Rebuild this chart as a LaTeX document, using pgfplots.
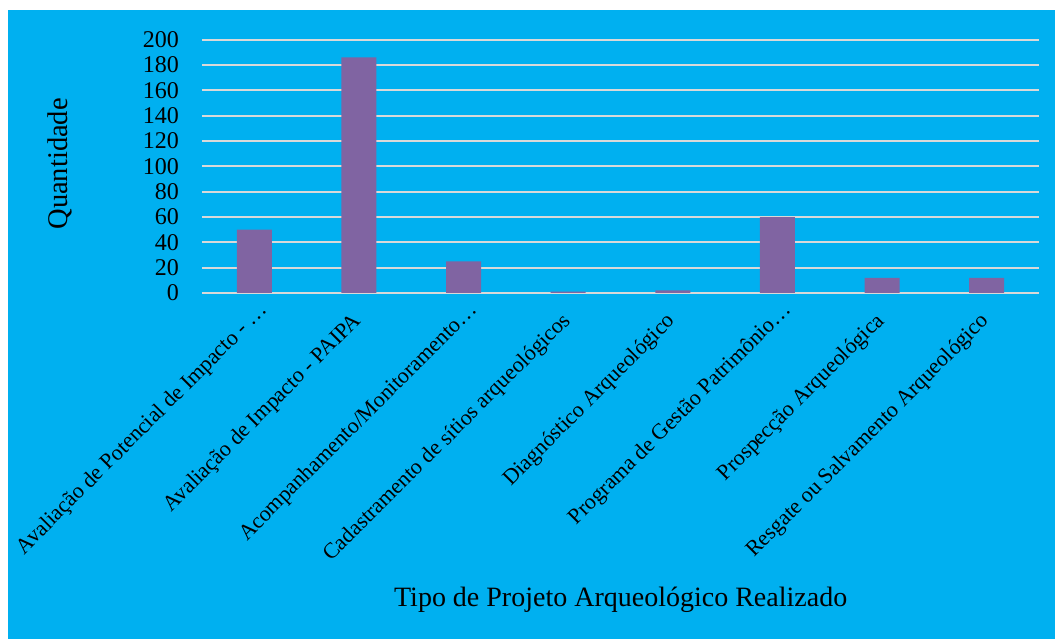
\documentclass[border=0pt]{standalone}
\usepackage{pgfplots}
\pgfplotsset{compat=1.18}
\usepackage{fontspec}
\setmainfont{Liberation Serif}
\definecolor{bgcyan}{HTML}{00B0F0}
\definecolor{barpurple}{HTML}{8064A2}
\definecolor{gridgray}{HTML}{D9D9D9}
\begin{document}
\begin{tikzpicture}
\useasboundingbox (0,0) rectangle (1055pt,639pt);
\fill[white] (0,0) rectangle (1055pt,639pt);
\fill[bgcyan] (8pt,0) rectangle (1055pt,629pt);
\begin{axis}[
  at={(202pt,346pt)}, anchor=south west,
  scale only axis,
  width=837pt, height=253.3pt,
  xmin=-0.5, xmax=7.5, ymin=0, ymax=200,
  ytick={0,20,...,200},
  xtick={0,...,7},
  xticklabels={
    {Avaliação de Potencial de Impacto - …\kern-16pt},
    {Avaliação de Impacto - PAIPA},
    {Acompanhamento/Monitoramento…\kern-16pt},
    {Cadastramento de sítios arqueológicos},
    {Diagnóstico Arqueológico},
    {Programa de Gestão Patrimônio…\kern-16pt},
    {Prospecção Arqueológica},
    {Resgate ou Salvamento Arqueológico}},
  axis line style={draw=none},
  major tick length=0pt,
  ymajorgrids,
  grid style={gridgray, line width=1.8pt},
  /pgf/number format/assume math mode=true,
  yticklabel style={font=\fontsize{24}{26}\selectfont, anchor=east, inner sep=0pt, xshift=-23pt},
  xticklabel style={font=\fontsize{22}{24}\selectfont, inner sep=0pt, xshift=3pt, yshift=-29pt, rotate=45, anchor=base east},
  ylabel={Quantidade},
  ylabel style={font=\fontsize{28.5}{30}\selectfont, at={(axis description cs:-0.1697,0.51)}, anchor=center, rotate=0},
  xlabel={Tipo de Projeto Arqueológico Realizado},
  xlabel style={font=\fontsize{28}{30}\selectfont, at={(axis description cs:0.5002,-1.2385)}, anchor=base},
  ybar, bar width=35pt,
]
\addplot[fill=barpurple, draw=none] coordinates {(0,50) (1,186) (2,25) (3,1) (4,2) (5,60) (6,12) (7,12)};
\end{axis}
\end{tikzpicture}
\end{document}
